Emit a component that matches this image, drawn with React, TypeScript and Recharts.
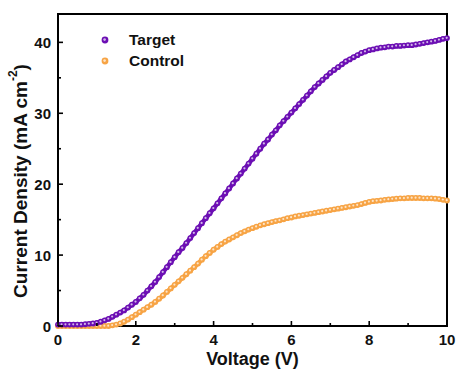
import React from 'react';
import { LineChart, Line, XAxis, YAxis, ReferenceArea } from 'recharts';

const voltage = [
  0.0, 0.1, 0.2, 0.3, 0.4, 0.5, 0.6, 0.7, 0.8, 0.9,
  1.0, 1.1, 1.2, 1.3, 1.4, 1.5, 1.6, 1.7, 1.8, 1.9,
  2.0, 2.1, 2.2, 2.3, 2.4, 2.5, 2.6, 2.7, 2.8, 2.9,
  3.0, 3.1, 3.2, 3.3, 3.4, 3.5, 3.6, 3.7, 3.8, 3.9,
  4.0, 4.1, 4.2, 4.3, 4.4, 4.5, 4.6, 4.7, 4.8, 4.9,
  5.0, 5.1, 5.2, 5.3, 5.4, 5.5, 5.6, 5.7, 5.8, 5.9,
  6.0, 6.1, 6.2, 6.3, 6.4, 6.5, 6.6, 6.7, 6.8, 6.9,
  7.0, 7.1, 7.2, 7.3, 7.4, 7.5, 7.6, 7.7, 7.8, 7.9,
  8.0, 8.1, 8.2, 8.3, 8.4, 8.5, 8.6, 8.7, 8.8, 8.9,
  9.0, 9.1, 9.2, 9.3, 9.4, 9.5, 9.6, 9.7, 9.8, 9.9,
  10.0,
];

const target = [
  0.2, 0.2, 0.2, 0.2, 0.2, 0.2, 0.2, 0.25, 0.3, 0.35,
  0.45, 0.6, 0.8, 1.0, 1.3, 1.6, 1.9, 2.2, 2.6, 3.0,
  3.4, 3.9, 4.4, 5.0, 5.6, 6.2, 6.9, 7.6, 8.3, 9.0,
  9.7, 10.4, 11.0, 11.7, 12.4, 13.1, 13.8, 14.5, 15.2, 15.9,
  16.6, 17.3, 18.0, 18.7, 19.4, 20.1, 20.8, 21.5, 22.2, 22.9,
  23.6, 24.3, 25.0, 25.7, 26.3, 27.0, 27.6, 28.3, 28.9, 29.5,
  30.1, 30.7, 31.3, 31.9, 32.5, 33.1, 33.7, 34.2, 34.7, 35.2,
  35.7, 36.1, 36.5, 36.9, 37.3, 37.6, 37.9, 38.2, 38.5, 38.7,
  38.9, 39.0, 39.15, 39.25, 39.3, 39.4, 39.4, 39.5, 39.5, 39.55,
  39.6, 39.6, 39.7, 39.8, 39.9, 40.0, 40.1, 40.2, 40.35, 40.5,
  40.6,
];

const control = [
  0.0, 0.0, 0.0, 0.0, 0.0, 0.0, 0.0, 0.0, 0.0, 0.0,
  0.0, 0.0, 0.0, 0.0, 0.1, 0.2, 0.35, 0.6, 0.9, 1.25,
  1.6, 1.95, 2.3, 2.65, 3.0, 3.4, 3.85, 4.3, 4.8, 5.3,
  5.8, 6.3, 6.8, 7.3, 7.8, 8.3, 8.8, 9.35, 9.85, 10.3,
  10.75, 11.15, 11.55, 11.9, 12.2, 12.5, 12.8, 13.1, 13.35, 13.6,
  13.8, 14.0, 14.2, 14.35, 14.5, 14.65, 14.8, 14.9, 15.05, 15.2,
  15.3, 15.45, 15.55, 15.65, 15.75, 15.85, 15.95, 16.05, 16.15, 16.25,
  16.35, 16.45, 16.55, 16.65, 16.75, 16.85, 16.95, 17.05, 17.2, 17.35,
  17.5, 17.6, 17.65, 17.7, 17.8, 17.85, 17.9, 17.95, 18.0, 18.0,
  18.05, 18.05, 18.05, 18.05, 18.0, 18.0, 18.0, 17.95, 17.9, 17.8,
  17.7,
];

const xTicks = [0, 1, 2, 3, 4, 5, 6, 7, 8, 9, 10];
const yTicks = [0, 5, 10, 15, 20, 25, 30, 35, 40];
const seriesNames = ['Target', 'Control'];

const PURPLE = '#6c0fb4';
const ORANGE = '#f7a445';
const FONT = '"Liberation Sans", Arial, sans-serif';

const data = voltage.map((v, i) => ({ v, t: target[i], c: control[i] }));

const makeBall = (color: string) => (props: any) => {
  const { cx, cy, index } = props;
  if (cx == null || cy == null) return <g key={`n${index}`} />;
  return (
    <g key={`d${index}`}>
      <circle cx={cx} cy={cy} r={2.9} fill={color} />
      <circle cx={cx - 0.3} cy={cy - 0.3} r={1.1} fill="#ffffff" opacity={0.7} />
    </g>
  );
};

const XTick = (props: any) => {
  const { x, y, payload } = props;
  const v = payload.value;
  const major = v % 2 === 0;
  return (
    <g>
      <line x1={x} x2={x} y1={y} y2={y - (major ? 5 : 3)} stroke="#000" strokeWidth={1.6} />
      {major && (
        <text x={x} y={y + 13} textAnchor="middle" dominantBaseline="central"
          fontFamily={FONT} fontWeight="bold" fontSize={15} fill="#111">{v}</text>
      )}
    </g>
  );
};

const YTick = (props: any) => {
  const { x, y, payload } = props;
  const v = payload.value;
  const major = v % 10 === 0;
  return (
    <g>
      <line x1={x} x2={x + (major ? 5 : 3)} y1={y} y2={y} stroke="#000" strokeWidth={1.6} />
      {major && (
        <text x={x - 7} y={y} textAnchor="end" dominantBaseline="central"
          fontFamily={FONT} fontWeight="bold" fontSize={15} fill="#111">{v}</text>
      )}
    </g>
  );
};

const XTitle = (props: any) => {
  const vb = props.viewBox || {};
  const cx = vb.x + vb.width / 2;
  return (
    <text x={cx} y={vb.y + 33} textAnchor="middle" dominantBaseline="central"
      fontFamily={FONT} fontWeight="bold" fontSize={18} fill="#111">Voltage (V)</text>
  );
};

const YTitle = (props: any) => {
  const vb = props.viewBox || {};
  const cx = 20;
  const cy = vb.y + vb.height / 2 + 11;
  return (
    <text x={cx} y={cy} textAnchor="middle" dominantBaseline="central"
      transform={`rotate(-90 ${cx} ${cy})`}
      fontFamily={FONT} fontWeight="bold" fontSize={19} fill="#111">
      Current Density (mA cm<tspan dy={-7} fontSize={12}>-2</tspan><tspan dy={7}>)</tspan>
    </text>
  );
};

const LegendBall = ({ color }: { color: string }) => (
  <svg width={8} height={8} style={{ display: 'block' }}>
    <circle cx={4} cy={4} r={3.4} fill={color} />
    <circle cx={3.6} cy={3.6} r={1.3} fill="#fff" opacity={0.7} />
  </svg>
);

export default function App() {
  const colors = [PURPLE, ORANGE];
  return (
    <div style={{ position: 'absolute', left: 0, top: 0, width: 458, height: 374, background: '#fff' }}>
      <LineChart width={458} height={374} data={data}
        margin={{ top: 14, right: 11, left: 0, bottom: 0 }}>
        <XAxis dataKey="v" type="number" domain={[0, 10]} ticks={xTicks} interval={0}
          tickSize={0} tickMargin={0} tickLine={false} height={48}
          axisLine={{ stroke: '#000', strokeWidth: 2 }} tick={<XTick />} label={<XTitle />} />
        <YAxis type="number" domain={[0, 44]} ticks={yTicks} interval={0}
          tickSize={0} tickMargin={0} tickLine={false} width={58}
          axisLine={{ stroke: '#000', strokeWidth: 2 }} tick={<YTick />} label={<YTitle />} />
        <ReferenceArea x1={0} x2={10} y1={0} y2={44} fill="none" stroke="#000" strokeWidth={2} />
        <Line dataKey="c" type="monotone" stroke={ORANGE} strokeWidth={4.5} isAnimationActive={false}
          dot={makeBall(ORANGE)} activeDot={false} />
        <Line dataKey="t" type="monotone" stroke={PURPLE} strokeWidth={4.5} isAnimationActive={false}
          dot={makeBall(PURPLE)} activeDot={false} />
      </LineChart>
      <div style={{ position: 'absolute', left: 101, top: 29, fontFamily: FONT, fontWeight: 'bold', fontSize: 15.5, color: '#111' }}>
        {seriesNames.map((n, i) => (
          <div key={n} style={{ display: 'flex', alignItems: 'center', height: 21 }}>
            <LegendBall color={colors[i]} />
            <span style={{ marginLeft: 20 }}>{n}</span>
          </div>
        ))}
      </div>
    </div>
  );
}
